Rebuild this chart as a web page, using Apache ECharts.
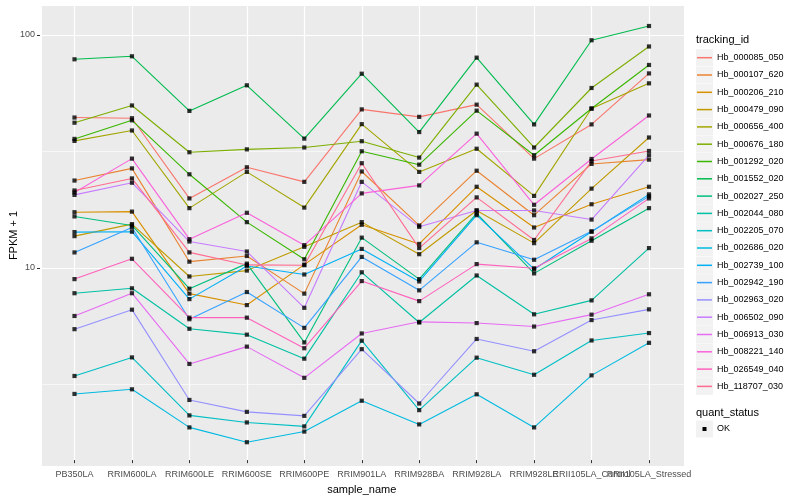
<!DOCTYPE html>
<html>
<head>
<meta charset="utf-8">
<script src="https://cdn.jsdelivr.net/npm/echarts@6/dist/echarts.min.js"></script>
<style>
html, body { margin: 0; padding: 0; background: #ffffff; }
#chart { width: 800px; height: 500px; }
</style>
</head>
<body>
<div id="chart"></div>
<script>
// ---------------- data ----------------
const categories = ['PB350LA', 'RRIM600LA', 'RRIM600LE', 'RRIM600SE', 'RRIM600PE', 'RRIM901LA',
  'RRIM928BA', 'RRIM928LA', 'RRIM928LE', 'RRII105LA_Control', 'RRII105LA_Stressed'];

const trackingIds = ['Hb_000085_050', 'Hb_000107_620', 'Hb_000206_210', 'Hb_000479_090', 'Hb_000656_400',
  'Hb_000676_180', 'Hb_001292_020', 'Hb_001552_020', 'Hb_002027_250', 'Hb_002044_080',
  'Hb_002205_070', 'Hb_002686_020', 'Hb_002739_100', 'Hb_002942_190', 'Hb_002963_020',
  'Hb_006502_090', 'Hb_006913_030', 'Hb_008221_140', 'Hb_026549_040', 'Hb_118707_030'];

const hb_000085_050 = [43.6, 43.3, 19.4, 26.5, 22.9, 47.3, 43.9, 49.6, 28.9, 40.7, 67.8];
const hb_000107_620 = [23.2, 26.2, 10.3, 10.9, 7.48, 25.4, 14.8, 25.6, 16.4, 27.4, 28.6];
const hb_000206_210 = [16.9, 17.0, 7.48, 6.67, 10.0, 14.9, 12.3, 21.8, 14.5, 18.3, 21.8];
const hb_000479_090 = [13.3, 15.0, 8.88, 9.42, 11.95, 15.3, 11.1, 17.2, 12.4, 21.4, 35.7];
const hb_000656_400 = [34.5, 38.3, 17.6, 25.3, 17.7, 40.8, 25.3, 31.9, 19.9, 47.7, 61.4];
const hb_000676_180 = [41.4, 49.2, 30.8, 31.7, 32.3, 34.4, 29.2, 60.6, 32.3, 58.6, 88.8];
const hb_001292_020 = [35.2, 42.4, 24.7, 15.3, 10.55, 31.1, 27.2, 46.7, 29.9, 47.7, 73.8];
const hb_001552_020 = [78.1, 80.5, 46.6, 60.2, 35.3, 67.6, 37.7, 79.4, 40.7, 94.5, 109.0];
const hb_002027_250 = [16.2, 14.8, 7.86, 10.1, 4.59, 13.1, 8.65, 16.7, 9.16, 12.7, 17.6];
const hb_002044_080 = [7.51, 7.89, 5.26, 4.96, 3.90, 9.26, 5.60, 8.97, 6.08, 6.99, 11.8];
const hb_002205_070 = [3.28, 3.95, 2.21, 2.06, 1.98, 4.67, 2.33, 3.94, 3.32, 4.68, 5.04];
const hb_002686_020 = [2.74, 2.87, 1.96, 1.69, 1.88, 2.56, 2.02, 2.73, 1.96, 3.30, 4.57];
const hb_002739_100 = [13.85, 13.9, 7.08, 9.87, 9.06, 11.7, 8.45, 16.4, 9.55, 13.9, 20.2];
const hb_002942_190 = [11.3, 14.5, 5.79, 7.60, 5.31, 10.8, 7.73, 12.5, 10.5, 13.95, 19.8];
const hb_002963_020 = [5.24, 6.37, 2.58, 2.29, 2.20, 4.29, 2.49, 4.75, 4.20, 5.74, 6.39];
const hb_006502_090 = [20.1, 22.7, 12.6, 11.4, 6.49, 22.9, 14.6, 17.2, 17.2, 15.7, 29.9];
const hb_006913_030 = [5.98, 7.51, 3.70, 4.40, 3.22, 5.02, 5.64, 5.57, 5.38, 6.06, 7.43];
const hb_008221_140 = [20.6, 28.9, 12.9, 16.8, 12.15, 20.4, 22.1, 37.1, 18.2, 28.8, 44.5];
const hb_026549_040 = [8.65, 10.6, 5.88, 5.88, 4.33, 8.48, 6.94, 10.05, 9.64, 13.0, 19.4];
const hb_118707_030 = [21.0, 23.7, 11.3, 9.97, 9.94, 27.6, 11.8, 19.6, 12.8, 28.2, 31.2];

const seriesValues = [hb_000085_050, hb_000107_620, hb_000206_210, hb_000479_090, hb_000656_400,
  hb_000676_180, hb_001292_020, hb_001552_020, hb_002027_250, hb_002044_080,
  hb_002205_070, hb_002686_020, hb_002739_100, hb_002942_190, hb_002963_020,
  hb_006502_090, hb_006913_030, hb_008221_140, hb_026549_040, hb_118707_030];

const quantStatus = ['OK'];
const yTickValues = [10, 100];

// ---------------- styles ----------------
const palette = ['#F8766D', '#EA8331', '#D89000', '#C09B00', '#A3A500', '#7CAE00', '#39B600', '#00BB4E',
  '#00BF7D', '#00C1A3', '#00BFC4', '#00BAE0', '#00B0F6', '#35A2FF', '#9590FF', '#C77CFF',
  '#E76BF3', '#FA62DB', '#FF62BC', '#FF6C91'];

const FONT = "'Liberation Sans', Arial, Helvetica, sans-serif";
const Y_MIN = 1.4129, Y_MAX = 134.5;
const PANEL = { left: 40, right: 800 - 684, top: 5, bottom: 500 - 466 };
const DATA_GRID = { left: 74.5, right: 800 - 649, top: 5, bottom: 34 };
// grid used only for the labelled log axis: it spans exactly 10 .. 100, so ticks sit only on 10 and 100
const TICK_GRID = { left: 40, right: 800 - 684, top: 35, bottom: 500 - 268 };
const LEGEND_TOP = 49.05, ROW_H = 17.3;

const chart = echarts.init(document.getElementById('chart'), null, { renderer: 'canvas' });

const pointData = [];
seriesValues.forEach(vals => vals.forEach((v, i) => pointData.push([categories[i], v])));

const lineSeries = seriesValues.map((vals, k) => ({
  name: trackingIds[k],
  type: 'line',
  xAxisIndex: 0,
  yAxisIndex: 0,
  data: vals,
  symbol: 'none',
  clip: false,
  z: 2,
  lineStyle: { color: palette[k], width: 1.1 },
  itemStyle: { color: palette[k] },
  emphasis: { disabled: true },
  animation: false
}));

const graphics = [];
trackingIds.forEach((_, i) => {
  graphics.push({
    type: 'rect', silent: true, z: 0,
    shape: { x: 696, y: LEGEND_TOP + i * ROW_H + 0.15, width: 17, height: 17 },
    style: { fill: '#F2F2F2' }
  });
});
graphics.push({
  type: 'text', silent: true, x: 696, y: 40,
  style: { text: 'tracking_id', fontSize: 11, fontFamily: FONT, fill: '#000', verticalAlign: 'middle' }
});
graphics.push({
  type: 'text', silent: true, x: 696, y: 412.7,
  style: { text: 'quant_status', fontSize: 11, fontFamily: FONT, fill: '#000', verticalAlign: 'middle' }
});
graphics.push({
  type: 'rect', silent: true, shape: { x: 696, y: 420.5, width: 17, height: 17 }, style: { fill: '#F2F2F2' }
});
graphics.push({
  type: 'rect', silent: true, shape: { x: 702.5, y: 427, width: 4, height: 4 }, style: { fill: '#000' }
});
graphics.push({
  type: 'text', silent: true, x: 717, y: 429,
  style: { text: quantStatus[0], fontSize: 9, fontFamily: FONT, fill: '#000', verticalAlign: 'middle' }
});

const isTick = v => yTickValues.some(t => Math.abs(v - t) / t < 1e-6);

const option = {
  backgroundColor: '#ffffff',
  animation: false,
  textStyle: { fontFamily: FONT },
  grid: [
    Object.assign({ show: false, containLabel: false }, DATA_GRID),
    Object.assign({ show: true, backgroundColor: '#EBEBEB', borderWidth: 0, containLabel: false }, PANEL),
    Object.assign({ show: false, containLabel: false }, TICK_GRID)
  ],
  xAxis: [
    {
      type: 'category', gridIndex: 0, data: categories, boundaryGap: false,
      axisLine: { show: false },
      axisTick: { show: true, length: 3, lineStyle: { color: '#333333', width: 1 } },
      axisLabel: { interval: 0, hideOverlap: false, color: '#4D4D4D', fontSize: 9, margin: 10, fontFamily: FONT },
      splitLine: { show: true, lineStyle: { color: '#ffffff', width: 1.2 } },
      name: 'sample_name', nameLocation: 'middle', nameGap: 17,
      nameTextStyle: { color: '#000', fontSize: 11, fontFamily: FONT }
    },
    { type: 'value', gridIndex: 1, show: false, min: 0, max: 1 },
    { type: 'value', gridIndex: 2, show: false, min: 0, max: 1 }
  ],
  yAxis: [
    { type: 'log', logBase: 10, gridIndex: 0, min: Y_MIN, max: Y_MAX, show: false },
    {
      type: 'log', logBase: 10, gridIndex: 1, min: Y_MIN, max: Y_MAX,
      axisLine: { show: false }, axisTick: { show: false }, axisLabel: { show: false },
      splitLine: { show: true, lineStyle: { color: '#ffffff', width: 1.2 } },
      name: 'FPKM + 1', nameLocation: 'middle', nameGap: 23,
      nameTextStyle: { color: '#000', fontSize: 11, fontFamily: FONT }
    },
    {
      type: 'value', gridIndex: 1, min: Math.log10(Y_MIN), max: Math.log10(Y_MAX), splitNumber: 4,
      axisLine: { show: false }, axisTick: { show: false }, axisLabel: { show: false },
      splitLine: { show: true, lineStyle: { color: '#ffffff', width: 0.6 } }
    },
    {
      type: 'log', logBase: 10, gridIndex: 2, min: yTickValues[0], max: yTickValues[1],
      axisLine: { show: false },
      axisTick: { show: true, length: 3, lineStyle: { color: '#333333', width: 1 } },
      axisLabel: { color: '#4D4D4D', fontSize: 9, margin: 5, fontFamily: FONT,
        formatter: v => (isTick(v) ? String(Math.round(v)) : '') },
      splitLine: { show: false }
    }
  ],
  legend: {
    orient: 'vertical', left: 697, top: LEGEND_TOP, padding: 0,
    itemWidth: 15, itemHeight: 1.5, itemGap: 0, icon: 'rect',
    selectedMode: false,
    data: trackingIds.map((n, i) => ({ name: n, itemStyle: { color: palette[i] } })),
    textStyle: { fontSize: 9, color: '#000', lineHeight: ROW_H, fontFamily: FONT }
  },
  graphic: graphics,
  series: lineSeries.concat([{
    name: quantStatus[0],
    type: 'scatter',
    xAxisIndex: 0, yAxisIndex: 0,
    data: pointData,
    symbol: 'rect', symbolSize: 4.2,
    clip: false,
    z: 5,
    itemStyle: { color: '#000000' },
    emphasis: { disabled: true },
    animation: false
  }])
};

chart.setOption(option);
</script>
</body>
</html>
